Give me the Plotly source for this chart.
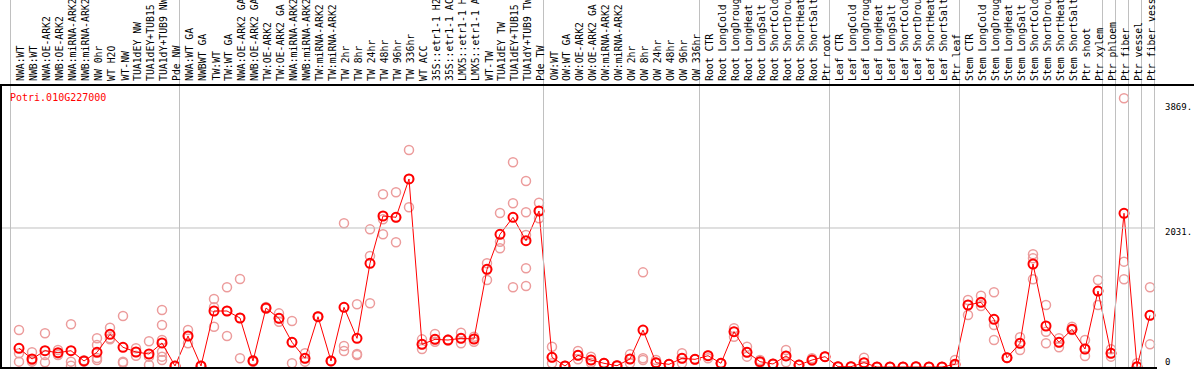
import plotly.graph_objects as go

W, H = 1194, 370

labels = [
    "NWA:WT", "NWB:WT", "NWA:OE-ARK2", "NWB:OE-ARK2", "NWA:miRNA-ARK2", "NWB:miRNA-ARK2",
    "NW 0hr", "WT H2O", "WT-NW", "TUA1dEY NW", "TUA1dEY+TUB15", "TUA1dY+TUB9 NW", "Pde NW",
    "NWA:WT GA", "NWBWT GA", "TW:WT", "TW:WT GA", "NWA:OE-ARK2 GA", "NWB:OE-ARK2 GA",
    "TW:OE-ARK2", "TW:OE-ARK2 GA", "NWA:miRNA-ARK2", "NWB:miRNA-ARK2", "TW:miRNA-ARK2",
    "TW:miRNA-ARK2", "TW 2hr", "TW 8hr", "TW 24hr", "TW 48hr", "TW 96hr", "TW 336hr",
    "WT ACC", "35S::etr1-1 H2", "35S::etr1-1 AC", "LMX5::etr1-1 H", "LMX5::etr1-1 A",
    "WT-TW", "TUA1dEY TW", "TUA1dEY+TUB15", "TUA1dY+TUB9 TW", "Pde TW",
    "OW:WT", "OW:WT GA", "OW:OE-ARK2", "OW:OE-ARK2 GA", "OW:miRNA-ARK2", "OW:miRNA-ARK2",
    "OW 2hr", "OW 8hr", "OW 24hr", "OW 48hr", "OW 96hr", "OW 336hr",
    "Root CTR", "Root LongCold", "Root LongDroug", "Root LongHeat", "Root LongSalt",
    "Root ShortCold", "Root ShortDrou", "Root ShortHeat", "Root ShortSalt", "Ptr root",
    "Leaf CTR", "Leaf LongCold", "Leaf LongDroug", "Leaf LongHeat", "Leaf LongSalt",
    "Leaf ShortCold", "Leaf ShortDrou", "Leaf ShortHeat", "Leaf ShortSalt", "Ptr leaf",
    "Stem CTR", "Stem LongCold", "Stem LongDroug", "Stem LongHeat", "Stem LongSalt",
    "Stem ShortCold", "Stem ShortDrou", "Stem ShortHeat", "Stem ShortSalt", "Ptr shoot",
    "Ptr xylem", "Ptr phloem", "Ptr fiber", "Ptr vessel", "Ptr fiber vess",
]

group_sizes = [13, 28, 12, 10, 10, 11, 1, 1, 1, 1]

means = [
    273, 117, 238, 209, 238, 88, 215, 477, 288, 219, 190, 351, 15,
    453, 15, 818, 818, 716, 88, 862, 711, 361, 127, 735, 88, 872, 419, 1515, 2206, 2187,
    2747, 331, 404, 394, 419, 409, 1427, 1939, 2187, 1845, 2279,
    141, 15, 171, 102, 54, 19, 117, 540, 63, 39, 127, 112,
    165, 54, 516, 215, 78, 44, 161, 29, 102, 151,
    5, 5, 63, 0, 0, 0, 5, 0, 0, 39,
    906, 945, 697, 136, 346, 1505, 599, 361, 551, 263, 1110,
    200, 2246, 5, 755,
]

replicates = [
    [540, 200, 78], [215, 78, 100], [492, 175, 68], [248, 200, 175], [624, 78, 19],
    [100, 80, 85], [419, 321, 131, 102], [574, 419, 404], [745, 78, 63], [273, 165, 219],
    [375, 151, 29], [833, 614, 394, 224, 151, 102], [15, 10, 20],
    [540, 346, 453], [15, 10, 20], [993, 872, 589], [1164, 453, 818], [1286, 127, 716],
    [88, 100, 75], [862, 850, 875], [784, 662, 711], [672, 54, 361], [200, 78, 127],
    [735, 740, 730], [88, 90, 85], [2099, 307, 234], [916, 190, 175], [2011, 1622, 931],
    [2523, 2158, 1939], [2552, 1822, 2187], [3170, 2333, 2747], [404, 263, 331],
    [482, 370, 404], [394, 400, 390], [501, 346, 419], [443, 370, 409], [1515, 1271, 1427],
    [2250, 1831, 1734], [2991, 2392, 1164], [2718, 2260, 1928, 1442, 1183], [2400, 2173, 2279],
    [297, 54, 141], [15, 10, 20], [234, 112, 171], [151, 63, 102], [54, 50, 60],
    [19, 15, 25], [185, 54, 117], [1383, 127, 102], [102, 60, 63], [39, 35, 45],
    [200, 54, 127], [112, 110, 115],
    [165, 127, 170], [54, 50, 58], [565, 443, 516], [297, 151, 215], [102, 63, 78],
    [44, 40, 48], [248, 68, 161], [29, 25, 33], [127, 102, 95], [151, 148, 155],
    [5, 3, 8], [5, 3, 8], [136, 10, 63], [0, 0, 0], [0, 0, 0], [0, 0, 0], [5, 3, 8],
    [0, 0, 0], [0, 0, 0], [102, 39, 20],
    [979, 760, 906], [1042, 891, 945], [1091, 614, 394], [136, 130, 140], [434, 248, 346],
    [1647, 1588, 1281], [906, 516, 346], [419, 288, 361], [589, 551, 540], [394, 161, 263],
    [1271, 906, 1110],
    [259, 151, 200], [3926, 1539, 1281], [54, 5, 0], [1164, 331, 755],
]

gene_id = "Potri.010G227000"
tick_values = [3869, 2031, 0]
tick_text = ["3869.", "2031.", "0"]

# ---- geometry (pixel helpers) ----
X0, DX = 19.0, 13.0          # pixel x of first category, spacing
Y_ZERO, UPP = 367.0, 14.61   # pixel y of value 0, units per pixel
PLOT_TOP, PLOT_BOT, PLOT_RIGHT = 85, 368, 1157


def px(xp):
    return xp / W


def py(yp):
    return (H - yp) / H


x_idx = list(range(len(means)))
rep_x, rep_y = [], []
for i, reps in enumerate(replicates):
    for v in reps:
        rep_x.append(i)
        rep_y.append(v)

fig = go.Figure()
fig.add_trace(go.Scatter(
    x=rep_x, y=rep_y, mode="markers",
    marker=dict(symbol="circle-open", size=9, color="#ec9c9c", line=dict(width=1.5)),
    hoverinfo="skip", showlegend=False,
))
fig.add_trace(go.Scatter(
    x=x_idx, y=means, mode="lines+markers",
    line=dict(color="#ff0000", width=1),
    marker=dict(symbol="circle-open", size=9, color="#ff0000", line=dict(width=2)),
    showlegend=False,
))

shapes = []
bounds = [0]
for g in group_sizes:
    bounds.append(bounds[-1] + g)
for b in bounds:
    xs = 10.5 + DX * b
    shapes.append(dict(type="line", xref="paper", yref="paper", x0=px(xs), x1=px(xs),
                       y0=py(PLOT_BOT), y1=1, line=dict(color="#c0c0c0", width=1)))
yg = Y_ZERO - tick_values[1] / UPP
shapes.append(dict(type="line", xref="paper", yref="paper", x0=px(1), x1=px(1155),
                   y0=py(yg), y1=py(yg), line=dict(color="#c0c0c0", width=1)))
shapes.append(dict(type="line", xref="paper", yref="paper", x0=0, x1=1,
                   y0=py(PLOT_TOP), y1=py(PLOT_TOP), line=dict(color="black", width=2)))
shapes.append(dict(type="line", xref="paper", yref="paper", x0=0, x1=px(PLOT_RIGHT),
                   y0=py(PLOT_BOT), y1=py(PLOT_BOT), line=dict(color="black", width=2)))
shapes.append(dict(type="line", xref="paper", yref="paper", x0=px(1), x1=px(1),
                   y0=py(PLOT_BOT), y1=py(PLOT_TOP), line=dict(color="black", width=2)))

annotations = []
for i, lab in enumerate(labels):
    annotations.append(dict(
        x=i, xref="x", y=py(83), yref="paper", text=lab, textangle=-90,
        xanchor="center", yanchor="bottom", showarrow=False, xshift=1.5,
        font=dict(family="DejaVu Sans Mono", size=9.8, color="black"),
    ))
annotations.append(dict(
    x=px(8), xref="paper", y=py(97), yref="paper", text=gene_id,
    xanchor="left", yanchor="middle", showarrow=False,
    font=dict(family="DejaVu Sans Mono", size=10, color="#ff0000"),
))
tick_pix = [107, 232, 362]
for t, yp in zip(tick_text, tick_pix):
    annotations.append(dict(
        x=px(1163), xref="paper", y=py(yp), yref="paper", text=t,
        xanchor="left", yanchor="middle", showarrow=False,
        font=dict(family="DejaVu Sans Mono", size=9, color="black"),
    ))

x_lo = (0 - X0) / DX
x_hi = (PLOT_RIGHT - X0) / DX
y_lo = (Y_ZERO - PLOT_BOT) * UPP
y_hi = (Y_ZERO - PLOT_TOP) * UPP

fig.update_layout(
    width=W, height=H,
    margin=dict(l=0, r=0, t=0, b=0),
    paper_bgcolor="white", plot_bgcolor="white",
    xaxis=dict(range=[x_lo, x_hi], domain=[0, px(PLOT_RIGHT)], visible=False, fixedrange=True),
    yaxis=dict(range=[y_lo, y_hi], domain=[py(PLOT_BOT), py(PLOT_TOP)], visible=False, fixedrange=True),
    shapes=shapes,
    annotations=annotations,
    showlegend=False,
)

fig.write_html(
    "out.html",
    config={"displayModeBar": False},
    post_script="document.body.style.margin='0';document.body.style.padding='0';document.body.style.overflow='hidden';",
)
